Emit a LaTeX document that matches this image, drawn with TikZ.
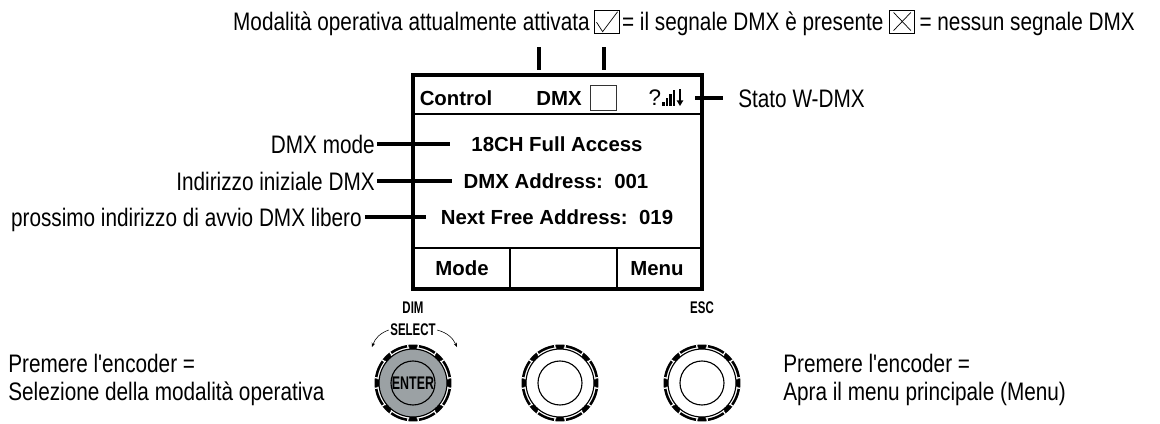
\documentclass[tikz,border=0pt]{standalone}
\usepackage{fontspec}
\setmainfont{Liberation Sans}
\newfontfamily\narrowfont[FakeStretch=0.82]{Liberation Sans}
\newfontfamily\knobfont[FakeStretch=0.68]{Liberation Sans}
\usetikzlibrary{positioning, arrows.meta}

\definecolor{knobgray}{RGB}{155,161,164}

\tikzset{
  lbl/.style={font=\narrowfont\fontsize{18}{21}\selectfont, inner sep=0pt,
    text height=12.9pt, text depth=0pt},
  lcd/.style={font=\bfseries\fontsize{14.5}{17}\selectfont, inner sep=0pt,
    text height=10.4pt, text depth=0pt},
  knoblbl/.style={font=\knobfont\bfseries\fontsize{12}{14}\selectfont, inner sep=0pt},
  lead/.style={line width=2.3pt},
  chkbox/.style={draw, line width=0.5pt, inner sep=0pt,
    minimum width=17.8pt, minimum height=16.4pt},
}

\begin{document}
\begin{tikzpicture}[x=0.025cm, y=-0.025cm]
  \useasboundingbox (0,0) rectangle (1160,423);

  % legend line on top
  \node[lbl, anchor=base east] (modo) at (590,30) {Modalità operativa attualmente attivata};
  \node[chkbox, anchor=west] (ok) at (594,21.5) {};
  \draw[line width=0.5pt] ([shift={(1.8pt,-0.5pt)}]ok.west) -- ([shift={(-3pt,1.2pt)}]ok.south)
    -- ([shift={(-1.5pt,-1.5pt)}]ok.north east);
  \node[lbl, anchor=base west] (segok) at ([xshift=1.5pt]ok.east |- modo.base) {= il segnale DMX è presente};
  \node[chkbox, anchor=west] (nok) at ([xshift=4pt]segok.east |- ok) {};
  \draw[line width=0.5pt] ([shift={(3pt,-2pt)}]nok.north west) -- ([shift={(-3pt,2pt)}]nok.south east);
  \draw[line width=0.5pt] ([shift={(-3pt,-2pt)}]nok.north east) -- ([shift={(3pt,2pt)}]nok.south west);
  \node[lbl, anchor=base west] (segno) at ([xshift=3pt]nok.east |- modo.base) {= nessun segnale DMX};

  % display frame
  \draw[line width=2.2pt] (413,75) rectangle (702,289);
  \draw[line width=0.9pt] (413,114) -- (702,114);
  \draw[line width=0.9pt] (413,248) -- (702,248);
  \draw[line width=0.9pt] (510,248) -- (510,289);
  \draw[line width=0.9pt] (617,248) -- (617,289);

  % header row
  \node[lcd] (ctrl) at (456,98) {Control};
  \node[lcd] (dmx) at (559,98) {DMX};
  \node[draw, line width=0.6pt, draw=black!80, minimum width=18.5pt, minimum height=17.8pt] (dmxbox) at (603,98) {};
  \node[font=\fontsize{16}{16}\selectfont, inner sep=0pt] (qm) at (655,97.5) {?};
  \foreach \i in {0,...,3}
    \fill (662+\i*3.6,105.5) rectangle ++(2.6,-4-\i*3.8);
  \draw[line width=1.2pt, -{Triangle[length=4pt,width=4.5pt]}] (680,89) -- (680,106);

  % rows
  \node[lcd] (mode) at (557,144) {18CH Full Access};
  \node[lcd] (addr) at (556,181) {DMX Address:\ \ 001};
  \node[lcd] (next) at (557,217) {Next Free Address:\ \ 019};
  \node[lcd] (softl) at (462,268) {Mode};
  \node[lcd] (softr) at (657,268) {Menu};

  % callouts
  \node[lbl, anchor=east] (lmode) at (375,144) {DMX mode};
  \node[lbl, anchor=east] (laddr) at (375,181) {Indirizzo iniziale DMX};
  \node[lbl, anchor=east] (lnext) at (362,217) {prossimo indirizzo di avvio DMX libero};
  \draw[lead, shorten <=1.5pt, shorten >=15pt] (lmode.east) -- (mode.west);
  \draw[lead, shorten <=1.5pt, shorten >=8pt] (laddr.east) -- (addr.west);
  \draw[lead, shorten <=2pt, shorten >=10pt] (lnext.east) -- (next.west);

  \node[lbl, anchor=west] (wdmx) at (738,98) {Stato W-DMX};
  \coordinate (wd) at (695,98);
  \draw[lead, shorten >=10.7pt] (wd) -- (wdmx.west);

  \coordinate (tk1) at (539,47);
  \coordinate (tk2) at (604,47);
  \draw[lead] (tk1) -- ++(0,23);
  \draw[lead] (tk2) -- ++(0,23);

  % encoders
  \foreach \kx/\kf in {413/knobgray, 560/white, 702/white} {
    \fill[\kf] (\kx,383) circle (34);
    \draw[line width=1.8pt] (\kx,383) circle (37.2);
    \draw[line width=0.8pt] (\kx,383) circle (34);
    \foreach \a in {0,45,...,315} {
      \fill (\kx,383) ++(\a-6:34) arc[start angle=\a-6, end angle=\a+6, radius=34]
        -- ++(\a+6:3.6) arc[start angle=\a+6, end angle=\a-6, radius=37.6] -- cycle;
      \draw[white, line width=0.9pt] (\kx,383) ++(\a-8:35.2) -- ++(\a-8:3.4);
      \draw[white, line width=0.9pt] (\kx,383) ++(\a+8:35.2) -- ++(\a+8:3.4);
    }
    \draw[line width=0.8pt, fill=\kf] (\kx,383) circle (22);
  }
  \node[knoblbl, font=\knobfont\bfseries\fontsize{13}{15}\selectfont] (enter) at (413,383) {ENTER};
  \node[knoblbl] (dim) at (413,308) {DIM};
  \node[knoblbl] (select) at (413,330) {SELECT};
  \node[knoblbl] (esc) at (702,308) {ESC};
  \coordinate (rotl) at (372,347);
  \coordinate (rotr) at (457,347);
  \draw[line width=0.4pt, -{Stealth[length=3pt,width=2.5pt]}] ([xshift=-1pt]select.west) to[bend right=25] (rotl);
  \draw[line width=0.4pt, -{Stealth[length=3pt,width=2.5pt]}] ([xshift=1pt]select.east) to[bend left=25] (rotr);

  % encoder notes
  \node[lbl, anchor=base west] (pl1) at (8,372) {Premere l\char39 encoder =};
  \node[lbl, anchor=base west] (pl2) at (8,400) {Selezione della modalità operativa};
  \node[lbl, anchor=base west] (pr1) at (783,372) {Premere l\char39 encoder =};
  \node[lbl, anchor=base west] (pr2) at (783,400) {Apra il menu principale (Menu)};
\end{tikzpicture}
\end{document}
